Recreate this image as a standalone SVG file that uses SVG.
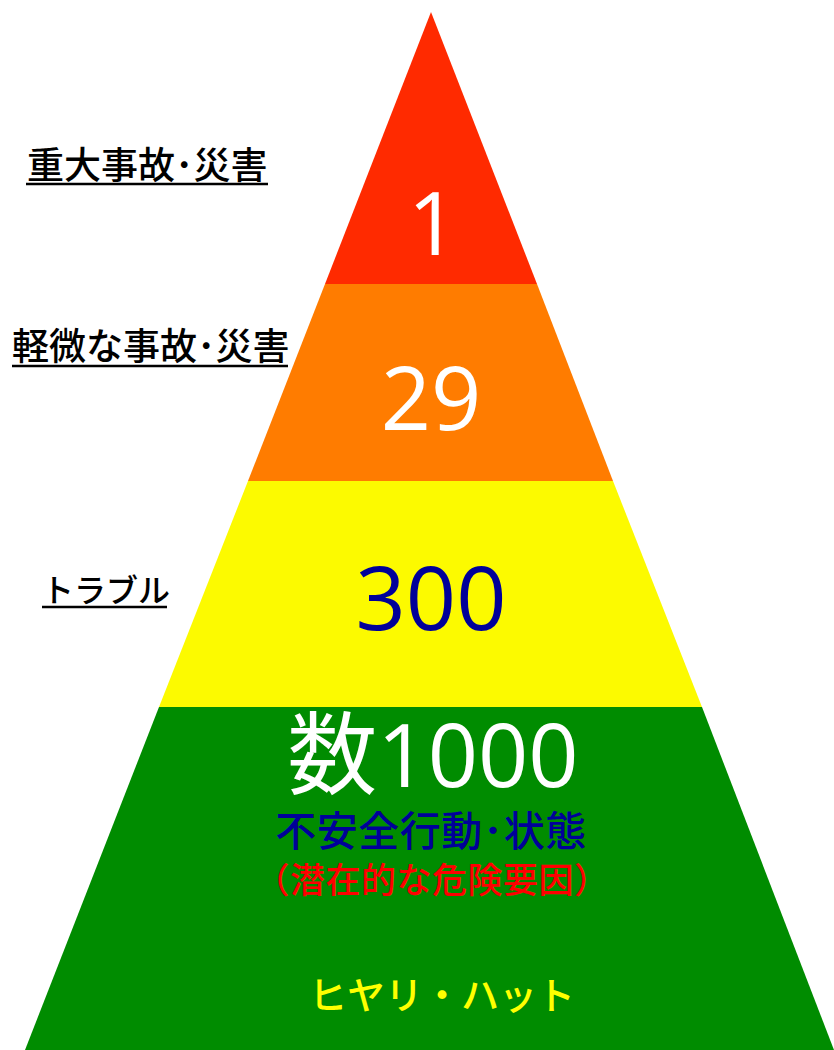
<svg xmlns="http://www.w3.org/2000/svg" width="834" height="1050" viewBox="0 0 834 1050">
<style>
.jp{font-family:"Noto Sans CJK JP","Noto Sans",sans-serif;font-weight:500}
.num{font-family:"Open Sans","Noto Sans CJK JP",sans-serif;font-size:88px;text-anchor:middle}
.lbl{font-family:"Noto Sans CJK JP",sans-serif;font-weight:500;fill:#000}
.ul{stroke:#000;stroke-width:2.6}
</style>
<rect width="834" height="1050" fill="#fff"/>
<g id="band-top">
<polygon points="431,12 537,284 325,284" fill="#FF2A00"/>
<text class="num" x="433" y="255" fill="#fff">1</text>
</g>
<g id="band-2">
<polygon points="325,284 537,284 613,481 248,481" fill="#FF7C00"/>
<text class="num" x="431" y="430" fill="#fff">29</text>
</g>
<g id="band-3">
<polygon points="248,481 613,481 702,707 159,707" fill="#FCFA00"/>
<text class="num" x="431" y="630" fill="#000099">300</text>
</g>
<g id="band-base">
<polygon points="159,707 702,707 834,1050 25,1050" fill="#008C00"/>
<text class="num" x="433" y="787" fill="#fff"><tspan style="font-family:'Noto Sans CJK JP',sans-serif;font-size:90px">数</tspan>1000</text>
<text class="jp" x="431" y="846" font-size="41" fill="#000099" text-anchor="middle" letter-spacing="0.5">不安全行動･状態</text>
<text class="jp" x="432" y="893" font-size="35" fill="#FF0000" text-anchor="middle" letter-spacing="0.5">（潜在的な危険要因）</text>
<text class="jp" x="442" y="1009" font-size="38" fill="#FFFF00" text-anchor="middle">ヒヤリ・ハット</text>
</g>
<g id="label-1">
<text class="lbl" x="27" y="179" font-size="37">重大事故･災害</text>
<line class="ul" x1="26" y1="184" x2="268" y2="184"/>
</g>
<g id="label-2">
<text class="lbl" x="12" y="360" font-size="37">軽微な事故･災害</text>
<line class="ul" x1="12" y1="366" x2="288" y2="366"/>
</g>
<g id="label-3">
<text class="lbl" x="42" y="602" font-size="32">トラブル</text>
<line class="ul" x1="42" y1="607" x2="167" y2="607"/>
</g>
</svg>
